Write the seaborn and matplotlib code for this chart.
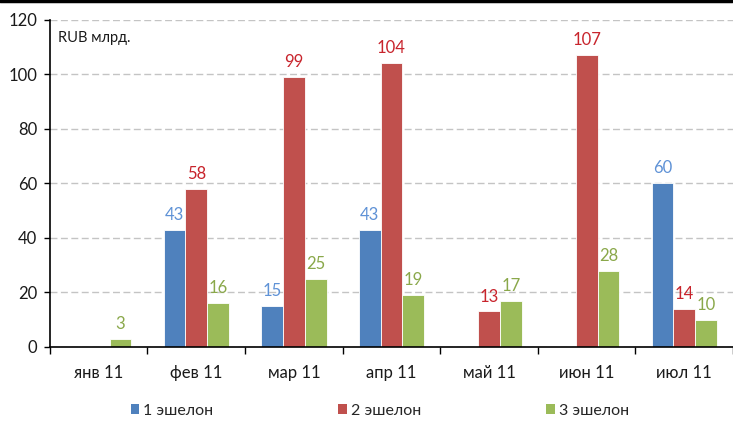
import matplotlib
matplotlib.use("Agg")
import matplotlib.pyplot as plt
from matplotlib.lines import Line2D
from matplotlib.patches import Patch
import seaborn as sns
import pandas as pd

months = ["янв 11", "фев 11", "мар 11", "апр 11", "май 11", "июн 11", "июл 11"]
series_names = ["1 эшелон", "2 эшелон", "3 эшелон"]
echelon1 = [0, 43, 15, 43, 0, 0, 60]
echelon2 = [0, 58, 99, 104, 13, 107, 14]
echelon3 = [3, 16, 25, 19, 17, 28, 10]
y_ticks = [0, 20, 40, 60, 80, 100, 120]
unit_label = "RUB млрд."

bar_colors = ["#4f81bd", "#c0504d", "#9bbb59"]
label_colors = ["#5f92d6", "#c8242c", "#8aa84a"]

rows = []
for name, vals in zip(series_names, [echelon1, echelon2, echelon3]):
    for m, v in zip(months, vals):
        rows.append({"month": m, "series": name, "value": v})
df = pd.DataFrame(rows)

sns.set_theme(style="white")
plt.rcParams["font.family"] = ["Lato", "DejaVu Sans"]

fig = plt.figure(figsize=(7.33, 4.21), dpi=100)
ax = fig.add_axes([0.068, 0.176, 0.932, 0.777])

sns.barplot(data=df, x="month", y="value", hue="series", order=months,
            hue_order=series_names, palette=bar_colors, width=0.67,
            edgecolor="white", linewidth=0.6, saturation=1, ax=ax,
            legend=False)

ax.set_ylim(0, 120)
ax.set_xlim(-0.5, len(months) - 0.5)
ax.set_yticks(y_ticks)
ax.set_xlabel("")
ax.set_ylabel("")

ax.yaxis.grid(True, color="#c4c4c4", linestyle=(0, (5, 2.5)), linewidth=1.0)
ax.set_axisbelow(True)

for side in ["top", "right"]:
    ax.spines[side].set_visible(False)
for side in ["left", "bottom"]:
    ax.spines[side].set_color("black")
    ax.spines[side].set_linewidth(1.2)

ax.tick_params(axis="y", which="major", direction="out", length=4, width=1,
               color="black", labelsize=12, pad=5, left=True)
ax.tick_params(axis="x", which="major", length=0, labelsize=12, pad=13)
ax.set_xticks([i - 0.5 for i in range(len(months) + 1)], minor=True)
ax.tick_params(axis="x", which="minor", direction="out", length=5, width=1,
               color="black", bottom=True)
for lab in ax.get_xticklabels() + ax.get_yticklabels():
    lab.set_color("#1a1a1a")

for container, vals, col in zip(ax.containers, [echelon1, echelon2, echelon3], label_colors):
    labels = [str(v) if v else "" for v in vals]
    ax.bar_label(container, labels=labels, padding=5, color=col, fontsize=12)

ax.text(0.012, 0.965, unit_label, transform=ax.transAxes, fontsize=10.5,
        ha="left", va="top", color="#1a1a1a")

handles = [Patch(facecolor=c, edgecolor="none") for c in bar_colors]
fig.legend(handles, series_names, loc="center", bbox_to_anchor=(0.518, 0.024),
           ncol=3, frameon=False, fontsize=11.5, handlelength=0.55,
           handleheight=0.55, handletextpad=0.25, columnspacing=7.8)

fig.add_artist(Line2D([0, 0.9985], [0.9965, 0.9965], color="black",
                      linewidth=2.5, transform=fig.transFigure))

fig.savefig("out.png", dpi=100)
